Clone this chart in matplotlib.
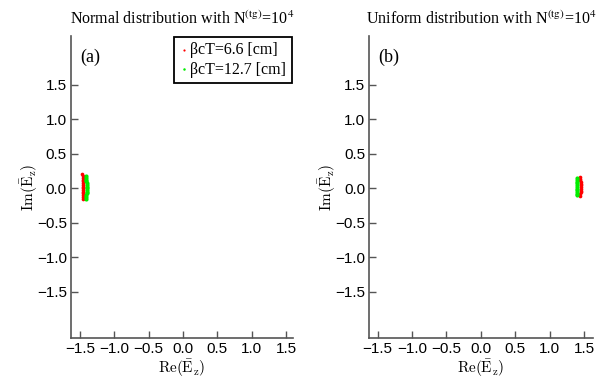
import matplotlib
matplotlib.use('Agg')
import matplotlib.pyplot as plt

# sample clusters (Re, Im)
red_a_re = [-1.462, -1.458, -1.455, -1.452, -1.450, -1.449, -1.448, -1.448, -1.449, -1.450, -1.452, -1.455, -1.458, -1.461, -1.464]
red_a_im = [-0.150, -0.125, -0.100, -0.075, -0.050, -0.025, 0.000, 0.025, 0.050, 0.075, 0.100, 0.125, 0.150, 0.175, 0.200]
green_a_re = [-1.412, -1.408, -1.405, -1.403, -1.402, -1.401, -1.401, -1.401, -1.402, -1.403, -1.405, -1.408, -1.411, -1.414]
green_a_im = [-0.150, -0.125, -0.100, -0.075, -0.050, -0.025, 0.000, 0.025, 0.050, 0.075, 0.100, 0.125, 0.150, 0.180]

red_b_re = [1.445, 1.449, 1.452, 1.454, 1.455, 1.455, 1.455, 1.454, 1.452, 1.449, 1.445, 1.442]
red_b_im = [-0.110, -0.085, -0.060, -0.035, -0.010, 0.015, 0.040, 0.065, 0.090, 0.115, 0.140, 0.165]
green_b_re = [1.395, 1.399, 1.402, 1.404, 1.405, 1.405, 1.404, 1.402, 1.399, 1.396, 1.393]
green_b_im = [-0.105, -0.080, -0.055, -0.030, -0.005, 0.020, 0.045, 0.070, 0.095, 0.120, 0.150]

ticks = [-1.5, -1.0, -0.5, 0.0, 0.5, 1.0, 1.5]
titles = ['Normal distribution with N$^{\\rm (tg)}$=10$^4$',
          'Uniform distribution with N$^{\\rm (tg)}$=10$^4$']
panel_tags = ['(a)', '(b)']
legend_labels = ['\u03b2cT=6.6 [cm]', '\u03b2cT=12.7 [cm]']

serif = 'Liberation Serif'
sans = 'Liberation Sans'

fig = plt.figure(figsize=(6.03, 3.83), dpi=100)
ax1 = fig.add_axes([0.1177, 0.1183, 0.3682, 0.7877])
ax2 = fig.add_axes([0.6124, 0.1183, 0.3705, 0.7877])

ax1.scatter(red_a_re, red_a_im, s=7, c='#ff0000', linewidths=0, label=legend_labels[0])
ax1.scatter(green_a_re, green_a_im, s=9, c='#00ee00', linewidths=0, label=legend_labels[1])
ax2.scatter(red_b_re, red_b_im, s=7, c='#ff0000', linewidths=0)
ax2.scatter(green_b_re, green_b_im, s=9, c='#00ee00', linewidths=0)

for ax, title, tag in zip([ax1, ax2], titles, panel_tags):
    ax.set_ylim(-2.17, 2.21)
    ax.set_xticks(ticks)
    ax.set_yticks(ticks)
    ax.set_xticklabels([f'{t:.1f}'.replace('-', '\u2212') for t in ticks], family=sans, fontsize=11)
    ax.set_yticklabels([f'{t:.1f}'.replace('-', '\u2212') for t in ticks], family=sans, fontsize=11)
    ax.tick_params(direction='in', length=5, width=1, color='#555555', pad=3)
    for s in ['top', 'right']:
        ax.spines[s].set_visible(False)
    for s in ['left', 'bottom']:
        ax.spines[s].set_color('#555555')
        ax.spines[s].set_linewidth(1.2)
    ax.set_title(title, family=serif, fontsize=11.5, pad=9, math_fontfamily='stix')
    ax.text(0.04, 0.915, tag, transform=ax.transAxes, family=serif, fontsize=13)
    ax.set_xlabel(r'$\mathrm{Re}(\bar{\mathrm{E}}_\mathrm{z})$', fontsize=11, math_fontfamily='cm', labelpad=1)
    ax.set_ylabel(r'$\mathrm{Im}(\bar{\mathrm{E}}_\mathrm{z})$', fontsize=11, math_fontfamily='cm', labelpad=-2)

ax1.set_xlim(-1.63, 1.60)
ax2.set_xlim(-1.622, 1.627)

leg = ax1.legend(loc='upper right', bbox_to_anchor=(0.995, 0.997), prop={'family': serif, 'size': 11.5},
                 fancybox=False, framealpha=1, edgecolor='black', markerscale=0.6,
                 handletextpad=0.1, handlelength=0.6, borderpad=0.35, labelspacing=0.2, borderaxespad=0.0)
leg.get_frame().set_linewidth(1.3)

plt.savefig('out.png', dpi=100)
